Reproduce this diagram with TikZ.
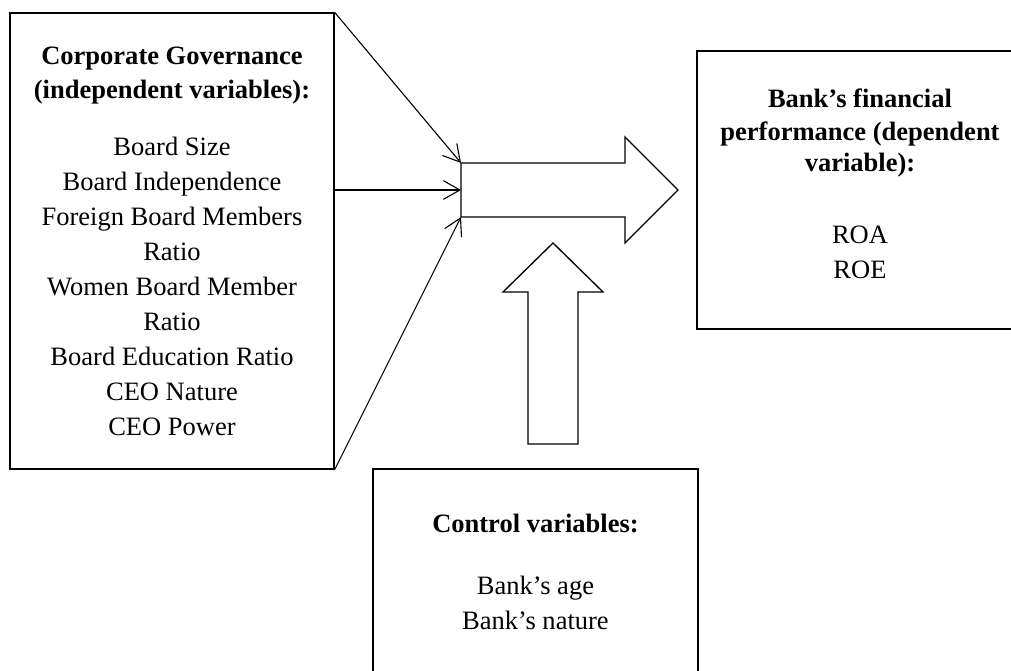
\documentclass[tikz,border=0pt]{standalone}
\usepackage{fontspec}
\setmainfont{Liberation Serif}
\usetikzlibrary{arrows.meta}
\newcommand{\pxu}{0.4525pt}
\tikzset{
	varbox/.style={draw, line width=0.6pt, align=center, inner sep=0pt, font=\fontsize{12}{15.8}\selectfont},
	vartext/.style={align=center, inner sep=0pt, font=\fontsize{12}{15.8}\selectfont},
	fatarrow/.style={draw, line width=0.6pt},
	link/.style={line width=0.5pt, -{Straight Barb[length=7.5pt,width=8.5pt]}}
}
\begin{document}
\begin{tikzpicture}[x=\pxu, y=-\pxu]
	\useasboundingbox (0,0) rectangle (1011,671);
	\clip (0,0) rectangle (1011,671);
	\node[varbox, minimum width=324*\pxu, minimum height=456*\pxu] at (172,241) (gov) {\textbf{Corporate Governance}\\ \textbf{(independent variables):}\\[10pt]
		Board Size\\ Board Independence\\ Foreign Board Members\\ Ratio\\ Women Board Member\\ Ratio\\ Board Education Ratio\\ CEO Nature\\ CEO Power};
	\node[varbox, minimum width=326*\pxu, minimum height=278*\pxu] at (860,190) (perf) {};
	\node[vartext] at (860,184) (perftext) {\textbf{Bank’s financial}\\[-1pt] \textbf{performance (dependent}\\[-2pt] \textbf{variable):}\\[17pt] ROA\\ ROE};
	\node[varbox, minimum width=325*\pxu, minimum height=206*\pxu] at (535.5,572) (ctrl) {\textbf{Control variables:}\\[12pt] Bank’s age\\ Bank’s nature};
	\draw[fatarrow] (461,163) -- (625,163) -- (625,137) -- (678,190) -- (625,243) -- (625,217) -- (461,217) -- cycle;
	\draw[fatarrow] (528,444) -- (528,292) -- (503,292) -- (553,243) -- (603,292) -- (578,292) -- (578,444) -- cycle;
	\coordinate (in1) at (461,163);
	\coordinate (in2) at (461,190);
	\coordinate (in3) at (461,217);
	\draw[link] (gov.north east) -- (in1);
	\draw[link] (in2 -| gov.east) -- (in2);
	\draw[link] (gov.south east) -- (in3);
\end{tikzpicture}
\end{document}
